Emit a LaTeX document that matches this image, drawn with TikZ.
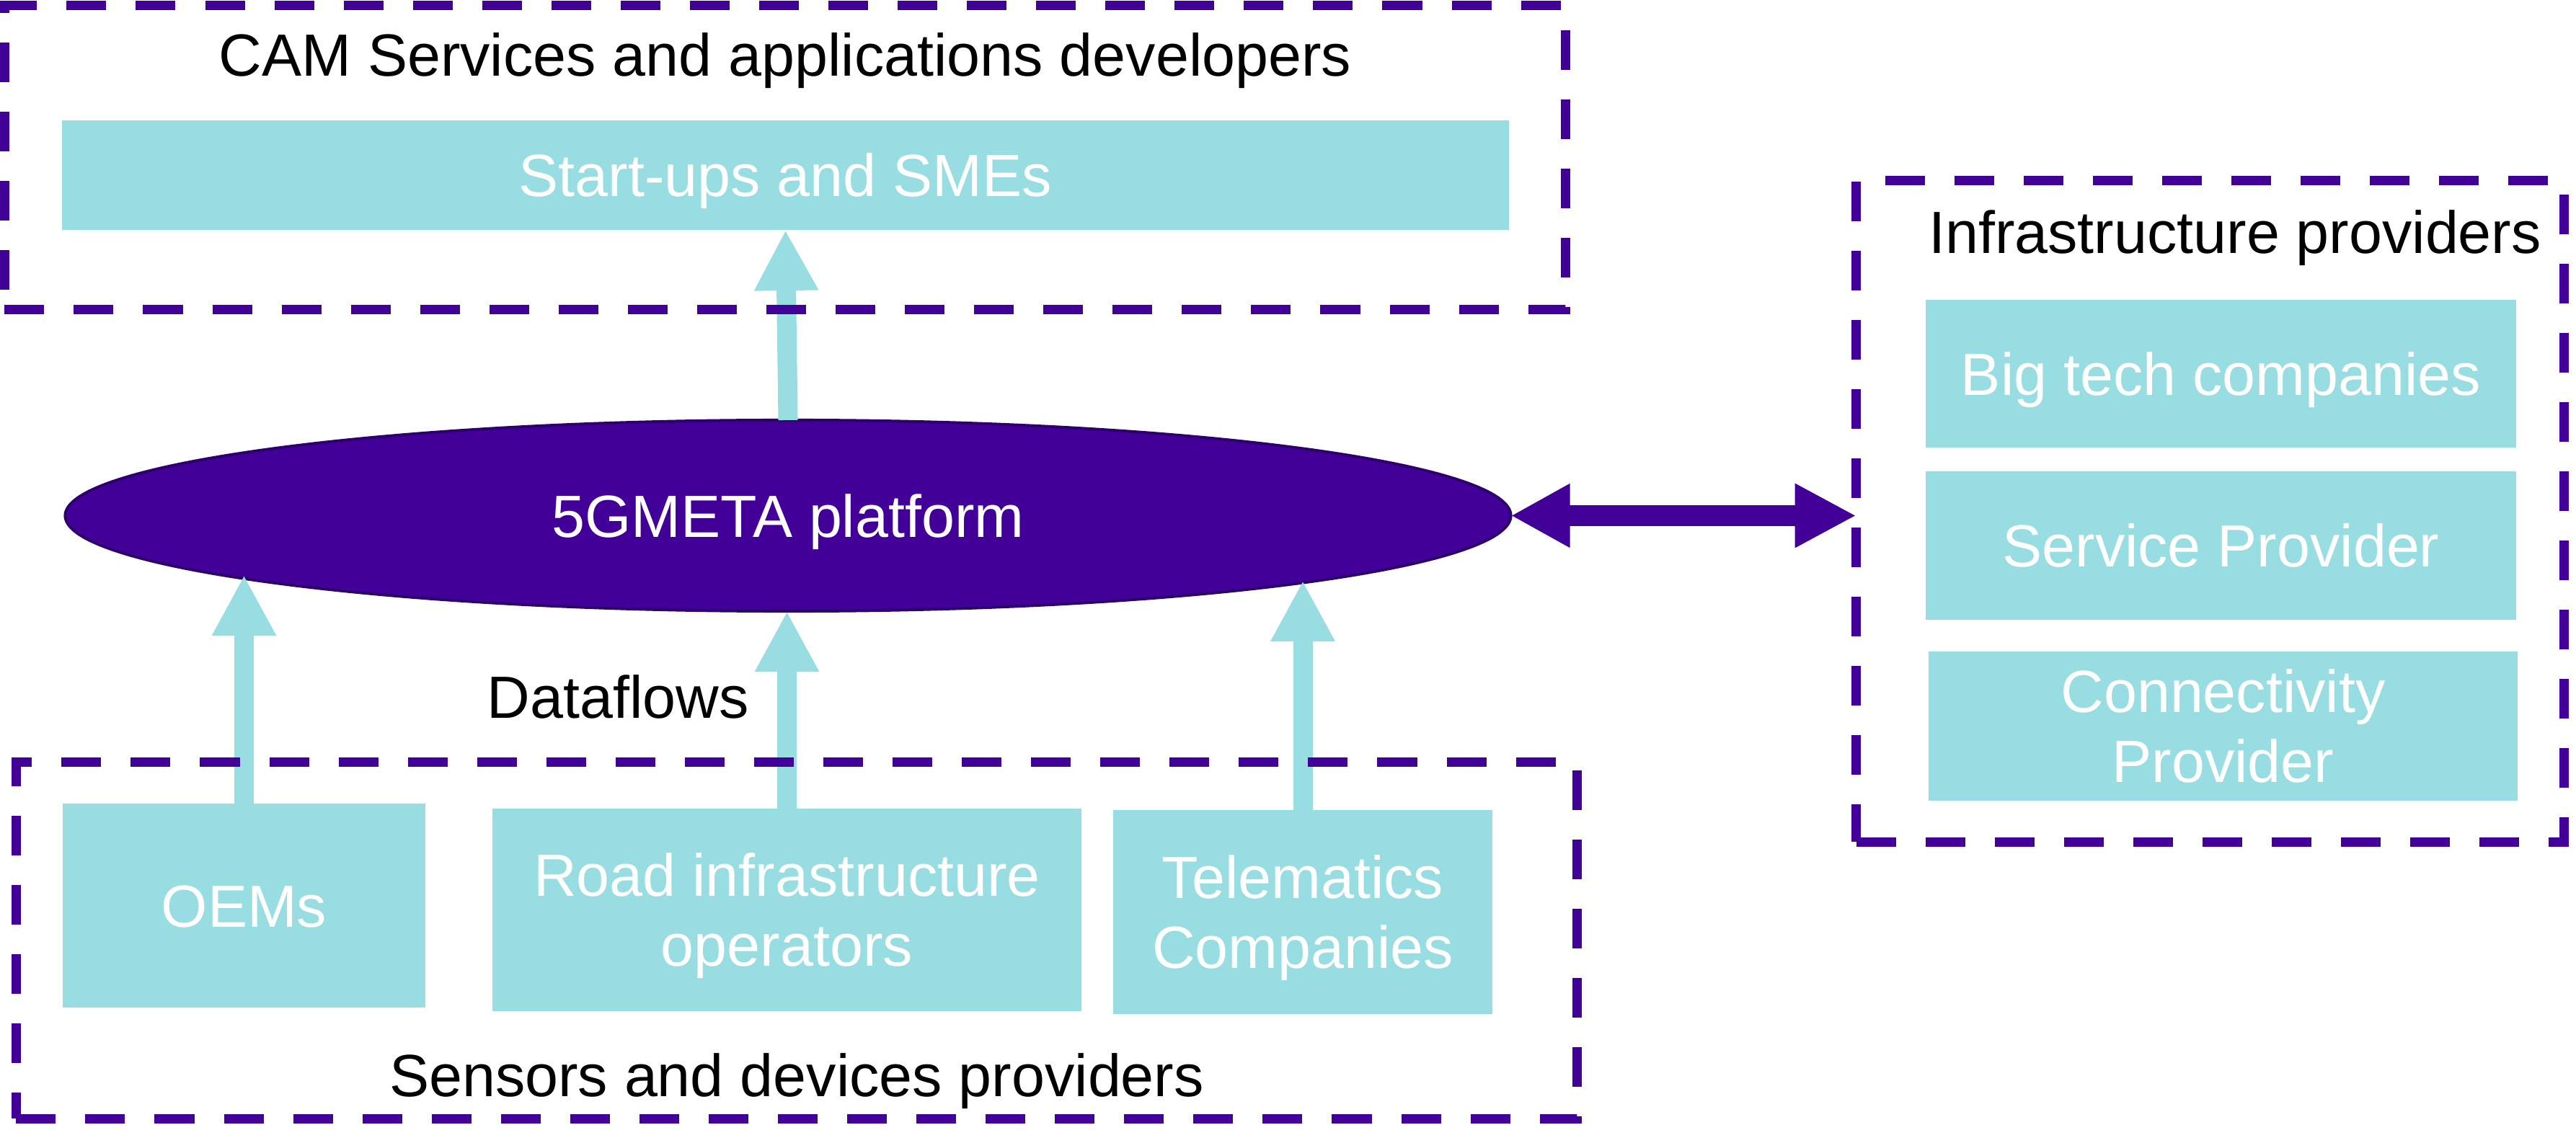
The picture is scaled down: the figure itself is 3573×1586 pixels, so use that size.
\documentclass[tikz,border=0pt]{standalone}
\usepackage{fontspec}
\setmainfont{Liberation Sans}
\usetikzlibrary{arrows.meta,shapes.geometric}
\definecolor{metapurple}{RGB}{66,0,153}
\definecolor{metaedge}{RGB}{46,0,110}
\definecolor{metacyan}{RGB}{151,221,225}
\begin{document}
\begin{tikzpicture}[x=0.01cm, y=-0.01cm,
  every node/.style={font=\fontsize{23.5pt}{27.8pt}\selectfont, inner sep=0pt, outer sep=0pt},
  group/.style={draw=metapurple, line width=0.13cm, dash pattern=on 0.55cm off 0.41cm},
  actor/.style={fill=metacyan, text=white, align=center, text height=16.8pt, text depth=0pt},
  twolines/.style={text height=44.6pt},
  flow/.style={draw=metacyan, line width=0.27cm, -{Triangle[length=0.84cm, width=0.83cm]}},
  link/.style={draw=metapurple, line width=0.28cm, {Triangle[length=0.82cm, width=0.83cm]}-{Triangle[length=0.85cm, width=0.83cm]}}]
\useasboundingbox (0,0) rectangle (3573,1586);
%% platform in the middle
\node[ellipse, fill=metapurple, draw=metaedge, line width=0.04cm, minimum width=20.04cm, minimum height=2.65cm,
  text=white, text height=16.8pt, text depth=0pt] (platform) at (1093,715.5) {5GMETA platform};
%% actors
\node[actor, minimum width=20.05cm, minimum height=1.52cm] (startups) at (1089.5,243) {Start-ups and SMEs};
\node[actor, minimum width=5.03cm, minimum height=2.83cm] (oems) at (338.5,1256.5) {OEMs};
\node[actor, twolines, minimum width=8.17cm, minimum height=2.81cm] (road) at (1091.5,1262.5) {Road infrastructure\\operators};
\node[actor, twolines, minimum width=5.26cm, minimum height=2.83cm] (telematics) at (1807,1265.5) {Telematics\\Companies};
\node[actor, minimum width=8.19cm, minimum height=2.05cm] (bigtech) at (3080.5,518.5) {Big tech companies};
\node[actor, minimum width=8.19cm, minimum height=2.06cm] (service) at (3080.5,757) {Service Provider};
\node[actor, twolines, minimum width=8.17cm, minimum height=2.07cm] (connect) at (3083.5,1007.5) {Connectivity\\Provider};
%% dataflows
\draw[flow] (platform.north) -- (startups.south);
\draw[flow] (oems.north) -- (oems.north |- platform.186.58);
\draw[flow] (road.north) -- (road.north |- platform.south);
\draw[flow] (telematics.north) -- (telematics.north |- platform.-7.42);
\node[anchor=base] (dataflows) at (857,996) {Dataflows};
%% groups
\node[group, minimum width=21.64cm, minimum height=4.21cm] (developers) at (1089,218.5) {};
\node[anchor=base] (devtitle) at (1089,106) {CAM Services and applications developers};
\node[group, minimum width=21.64cm, minimum height=4.94cm] (sensors) at (1105,1305) {};
\node[anchor=base] (senstitle) at (1105,1521) {Sensors and devices providers};
\node[group, minimum width=9.81cm, minimum height=9.17cm] (infra) at (3065.5,709.5) {};
\node[anchor=base] (infratitle) at (3100,352) {Infrastructure providers};
%
\draw[link] (platform.east) -- (platform.east -| infra.west);
\end{tikzpicture}
\end{document}
